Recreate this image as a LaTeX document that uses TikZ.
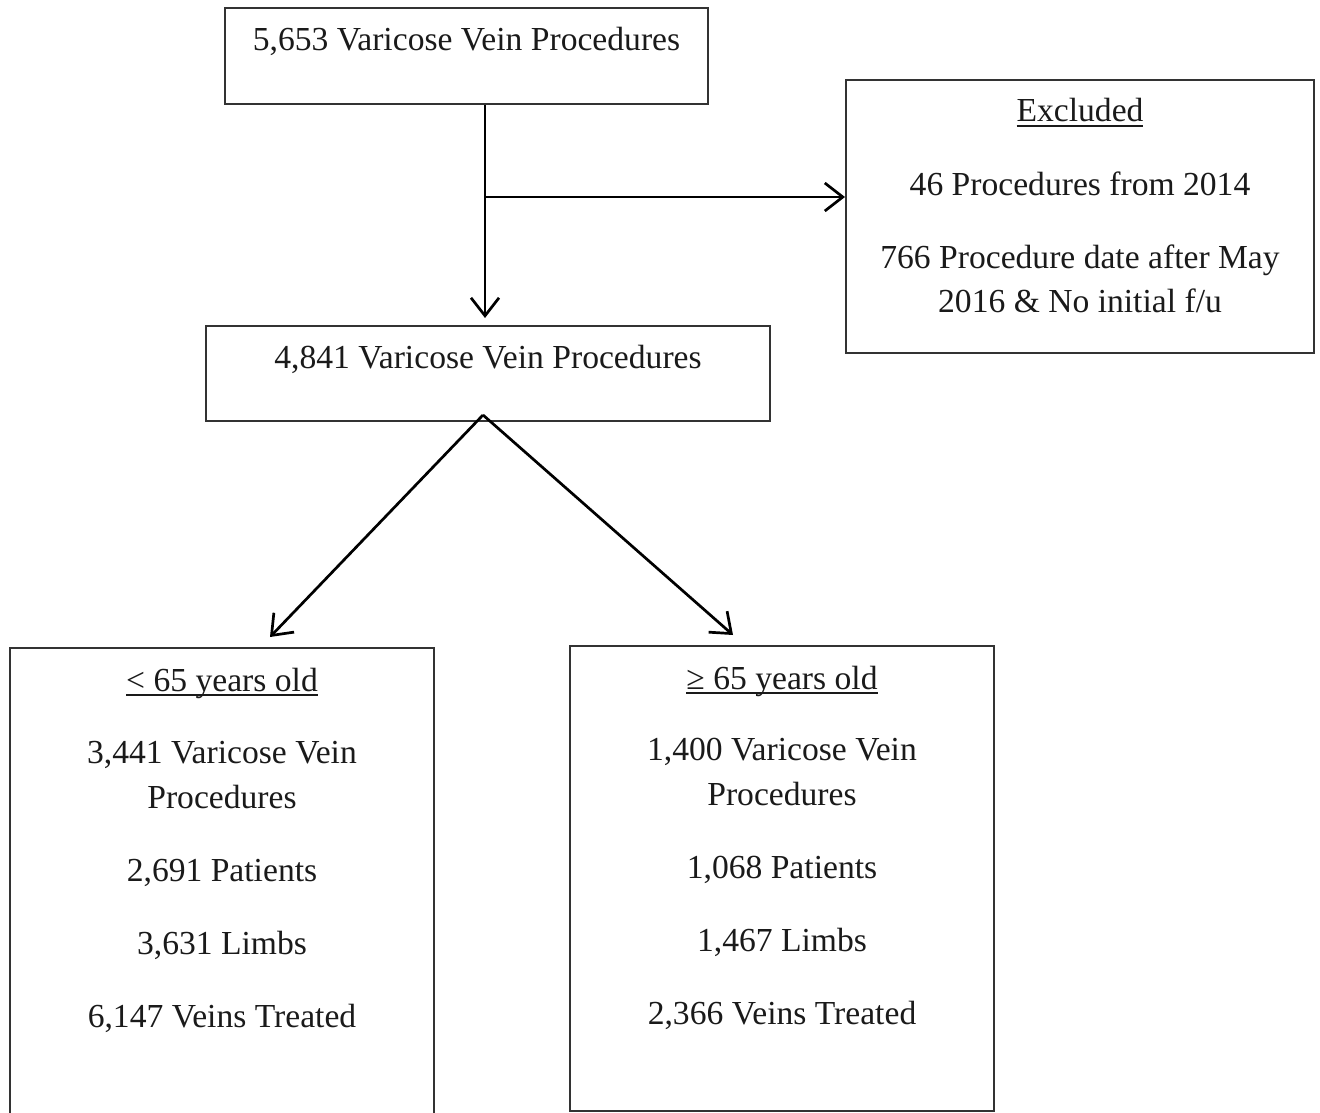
\documentclass[tikz,border=0pt]{standalone}
\usepackage{fontspec}
\setmainfont{Liberation Serif}
\usetikzlibrary{arrows.meta}
\newcommand{\ulx}[1]{\setbox0\hbox{#1}\rlap{\rule[-4.6pt]{\wd0}{1.7pt}}\box0}
\definecolor{boxgray}{HTML}{333333}
\definecolor{ink}{HTML}{1A1A1A}
\begin{document}
\begin{tikzpicture}[x=1pt,y=-1pt,
  frame/.style={draw=boxgray, line width=2pt, inner sep=0pt},
  txt/.style={anchor=base, inner sep=0pt, text=ink, font=\fontsize{33.6pt}{45pt}\selectfont},
  arr/.style={draw=black, line width=2.7pt, -{Straight Barb[length=18pt,width=28pt]}}]
\useasboundingbox[fill=white] (0,0) rectangle (1320,1113);

% boxes
\node[frame, minimum width=483pt, minimum height=96pt] (top) at (466.5,56) {};
\node[frame, minimum width=468pt, minimum height=273pt] (ex) at (1080,216.5) {};
\node[frame, minimum width=564pt, minimum height=95pt] (mid) at (488,373.5) {};
\node[frame, minimum width=424pt, minimum height=467pt] (lb) at (222,881.5) {};
\node[frame, minimum width=424pt, minimum height=465pt] (rb) at (782,878.5) {};

% texts
\node[txt] (t1) at (466.5,51) {5,653 Varicose Vein Procedures};
\node[txt] (e0) at (1080,122) {\ulx{Excluded}};
\node[txt] (e1) at (1080,195) {46 Procedures from 2014};
\node[txt] (e2) at (1080,268) {766 Procedure date after May};
\node[txt] (e3) at (1080,312) {2016 \& No initial f/u};
\node[txt] (m1) at (488,368) {4,841 Varicose Vein Procedures};

\node[txt] (l0) at (222,691) {\ulx{< 65 years old}};
\node[txt] (l1) at (222,763) {3,441 Varicose Vein};
\node[txt] (l2) at (222,808) {Procedures};
\node[txt] (l3) at (222,881) {2,691 Patients};
\node[txt] (l4) at (222,954) {3,631 Limbs};
\node[txt] (l5) at (222,1027) {6,147 Veins Treated};

\node[txt] (r0) at (782,689) {\ulx{≥ 65 years old}};
\node[txt] (r1) at (782,760) {1,400 Varicose Vein};
\node[txt] (r2) at (782,805) {Procedures};
\node[txt] (r3) at (782,878) {1,068 Patients};
\node[txt] (r4) at (782,951) {1,467 Limbs};
\node[txt] (r5) at (782,1024) {2,366 Veins Treated};

% connectors
\coordinate (j) at (485,197);
\coordinate (apex) at (483,415);
\coordinate (ltip) at (270,637);
\coordinate (rtip) at (733,635);
\draw[arr, shorten >=7pt] (j |- top.south) -- (j |- mid.north);
\draw[arr] (j) -- (j -| ex.west);
\draw[arr] (apex) -- (ltip);
\draw[arr] (apex) -- (rtip);
\end{tikzpicture}
\end{document}
